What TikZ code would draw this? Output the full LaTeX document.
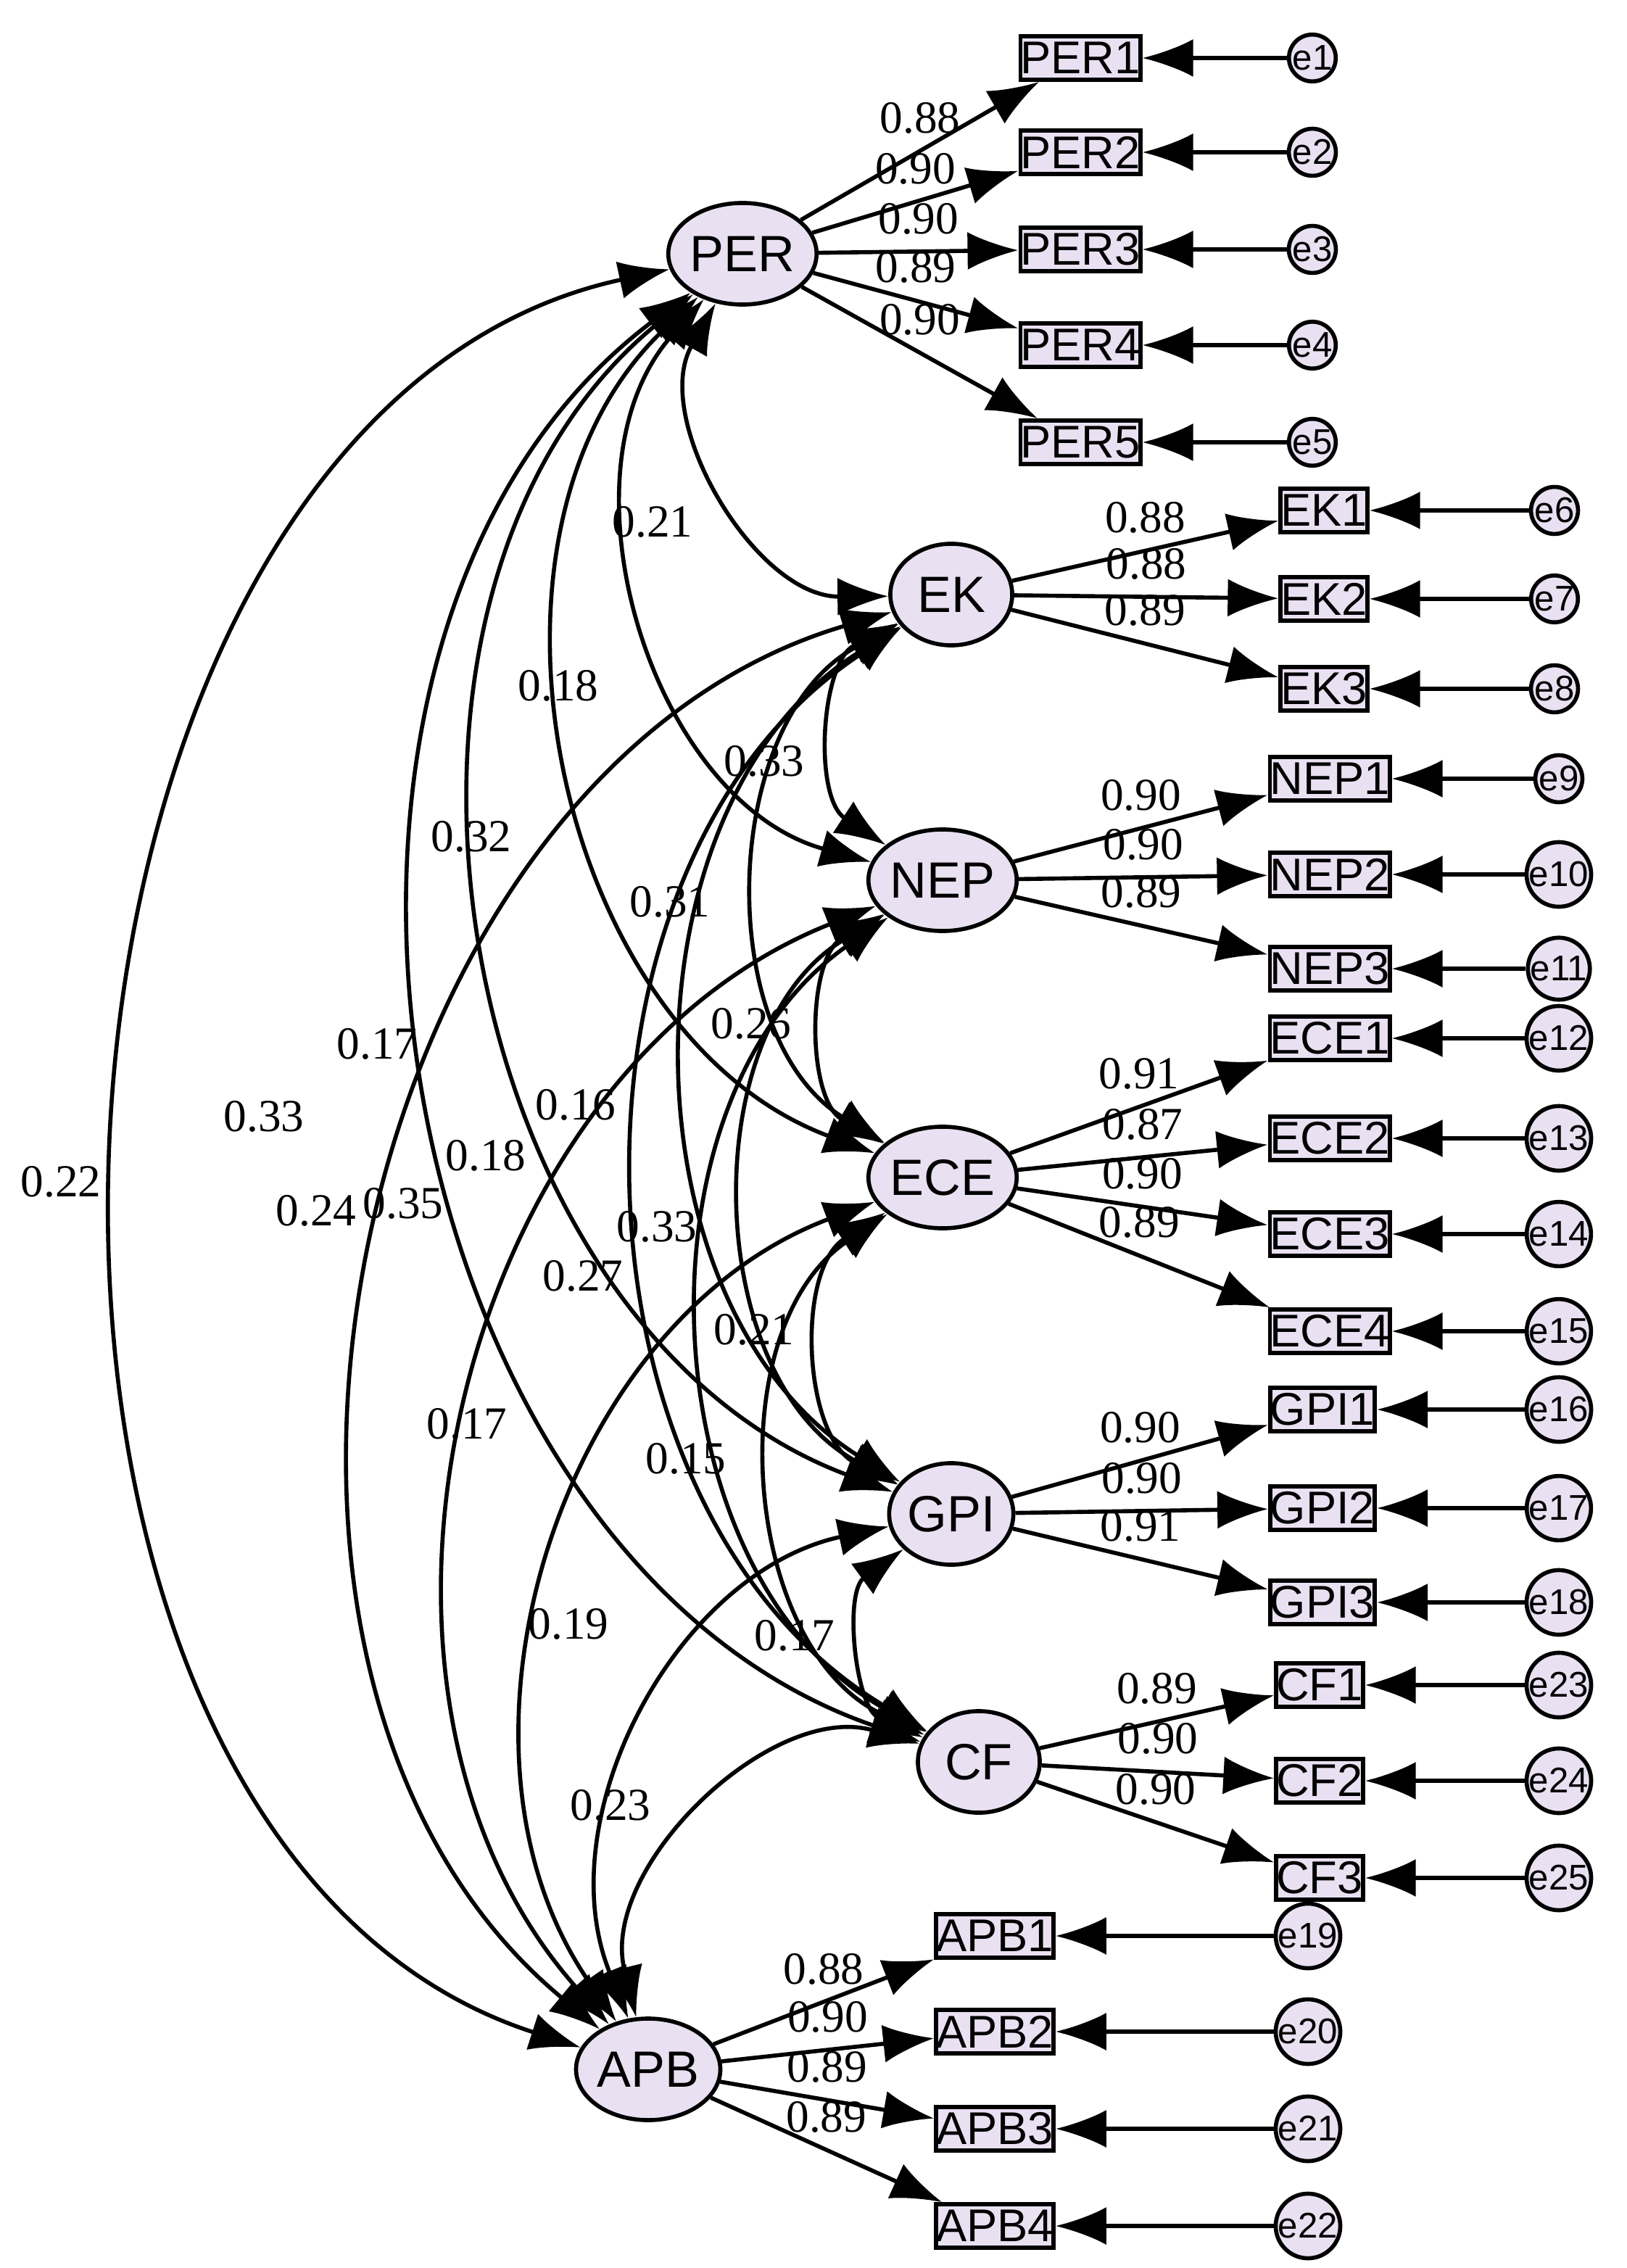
\documentclass[tikz,border=0pt]{standalone}
\usepackage{fontspec}
\setmainfont{Liberation Serif}
\newfontfamily\nodefont{Liberation Sans}
\usetikzlibrary{arrows.meta,shapes.geometric}
\definecolor{latfill}{HTML}{E9E1F2}
\tikzset{
  latent/.style={draw, ellipse, thick, fill=latfill, minimum width=0.84cm, minimum height=0.7cm, inner sep=0pt, font=\nodefont\fontsize{10}{12}\selectfont},
  obs/.style={draw, rectangle, thick, fill=latfill, minimum width=0.42cm, minimum height=0.3cm, inner sep=0pt, font=\nodefont\fontsize{9}{11}\selectfont},
  err/.style={draw, circle, thick, fill=latfill, minimum size=0.3cm, inner sep=0pt, font=\nodefont\fontsize{7}{8}\selectfont},
  tip/.style={-{Latex[length=3.5mm,width=2.6mm]}, thick},
  cov/.style={{Latex[length=3.5mm,width=2.6mm]}-{Latex[length=3.5mm,width=2.6mm]}, thick},
  val/.style={font=\fontsize{9}{11}\selectfont, inner sep=1pt}
}
% one block of indicators with their error terms
\newcommand{\indblock}[4]{%
  \foreach \k/\y/\e/\w in {#4} {
    \node (#1\k)[obs] at (#2,\y) {#1\k};
    \node (\e)[err] at (#3,\y) {\e};
    \draw[tip] (#1) -- node[val, pos=0.5, above, yshift=2pt] {\w} (#1\k);
    \draw[tip] (\e) -- (#1\k);
  }}
\begin{document}
\begin{tikzpicture}[x=0.01cm, y=-0.01cm]
\useasboundingbox (0,0) rectangle (1122,1564);
\node (PER)[latent] at (512,175) {PER};
\node (EK)[latent] at (656,410) {EK};
\node (NEP)[latent] at (650,607) {NEP};
\node (ECE)[latent] at (650,812) {ECE};
\node (GPI)[latent] at (656,1044) {GPI};
\node (CF)[latent] at (675,1215) {CF};
\node (APB)[latent] at (447,1427) {APB};
\indblock{PER}{745}{905}{1/40/e1/0.88, 2/105/e2/0.90, 3/172/e3/0.90, 4/238/e4/0.89, 5/305/e5/0.90}
\indblock{EK}{913}{1072}{1/352/e6/0.88, 2/413/e7/0.88, 3/475/e8/0.89}
\indblock{NEP}{917}{1075}{1/537/e9/0.90, 2/603/e10/0.90, 3/668/e11/0.89}
\indblock{ECE}{917}{1075}{1/716/e12/0.91, 2/785/e13/0.87, 3/851/e14/0.90, 4/918/e15/0.89}
\indblock{GPI}{912}{1075}{1/972/e16/0.90, 2/1040/e17/0.90, 3/1105/e18/0.91}
\indblock{CF}{910}{1075}{1/1162/e23/0.89, 2/1228/e24/0.90, 3/1295/e25/0.90}
\indblock{APB}{686}{902}{1/1335/e19/0.88, 2/1401/e20/0.90, 3/1468/e21/0.89, 4/1535/e22/0.89}
% covariances
\draw[cov] (PER) to[bend right=60] (EK);
\draw[cov] (PER) to[bend right=58] (NEP);
\draw[cov] (PER) to[bend right=58] (ECE);
\draw[cov] (PER) to[bend right=60] (GPI);
\draw[cov] (PER) to[bend right=62] (CF);
\draw[cov] (PER) to[bend right=75] (APB);
\draw[cov] (EK) to[bend right=60] (NEP);
\draw[cov] (EK) to[bend right=60] (ECE);
\draw[cov] (EK) to[bend right=58] (GPI);
\draw[cov] (EK) to[bend right=58] (CF);
\draw[cov] (EK) to[bend right=62] (APB);
\draw[cov] (NEP) to[bend right=60] (ECE);
\draw[cov] (NEP) to[bend right=60] (GPI);
\draw[cov] (NEP) to[bend right=58] (CF);
\draw[cov] (NEP) to[bend right=55] (APB);
\draw[cov] (ECE) to[bend right=60] (GPI);
\draw[cov] (ECE) to[bend right=60] (CF);
\draw[cov] (ECE) to[bend right=52] (APB);
\draw[cov] (GPI) to[bend right=60] (CF);
\draw[cov] (GPI) to[bend right=50] (APB);
\draw[cov] (CF) to[bend right=60] (APB);
\node (c1)[val] at (450,360) {0.21};
\node (c2)[val] at (385,473) {0.18};
\node (c3)[val] at (325,577) {0.32};
\node (c4)[val] at (260,720) {0.17};
\node (c5)[val] at (278,830) {0.35};
\node (c6)[val] at (42,815) {0.22};
\node (c7)[val] at (527,525) {0.33};
\node (c8)[val] at (462,622) {0.31};
\node (c9)[val] at (397,762) {0.16};
\node (c10)[val] at (335,797) {0.18};
\node (c11)[val] at (182,770) {0.33};
\node (c12)[val] at (518,706) {0.26};
\node (c13)[val] at (453,846) {0.33};
\node (c14)[val] at (402,880) {0.27};
\node (c15)[val] at (218,835) {0.24};
\node (c16)[val] at (520,917) {0.21};
\node (c17)[val] at (473,1006) {0.15};
\node (c18)[val] at (322,982) {0.17};
\node (c19)[val] at (548,1128) {0.17};
\node (c20)[val] at (392,1120) {0.19};
\node (c21)[val] at (421,1245) {0.23};
\end{tikzpicture}
\end{document}
